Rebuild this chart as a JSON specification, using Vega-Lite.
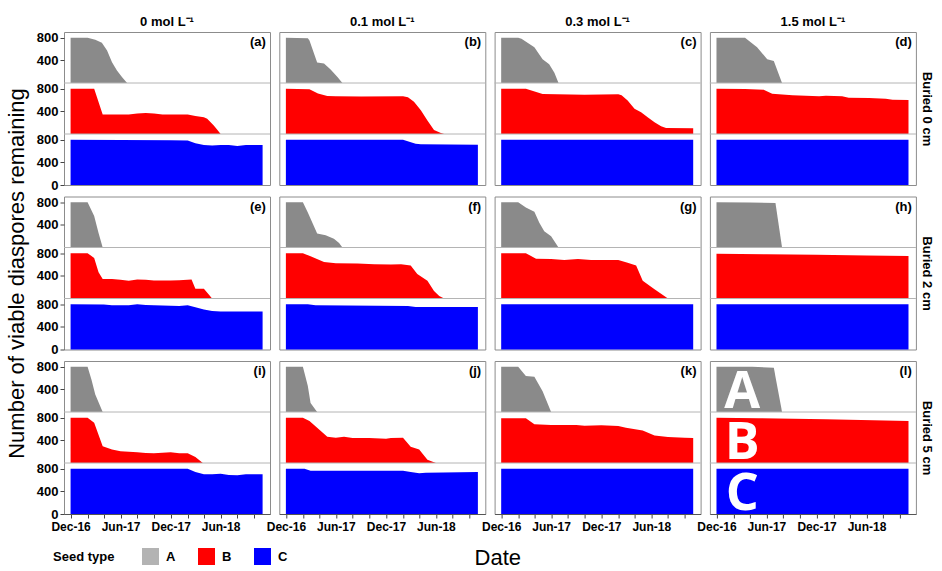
{
  "$schema": "https://vega.github.io/schema/vega-lite/v6.json",
  "background": "white",
  "padding": {"left": 4, "top": 15, "right": 0, "bottom": 0},
  "config": {
    "font": "Liberation Sans",
    "view": {"stroke": "#8c8c8c", "strokeWidth": 1, "continuousWidth": 206, "continuousHeight": 153},
    "range": {"category": ["#8a8a8a", "#ff0000", "#0000ff"]},
    "axis": {"labelFont": "Liberation Sans", "labelColor": "black", "labelFontWeight": "bold", "tickColor": "#444444", "grid": false, "titleFont": "Liberation Sans", "titleFontWeight": "normal", "titleColor": "black", "titleFontSize": 22},
    "axisY": {"labelFontSize": 13, "tickSize": 4, "labelPadding": 2, "domain": false, "titlePadding": 8},
    "axisX": {"labelFontSize": 12, "tickSize": 4, "labelPadding": 3, "domainColor": "#555555", "labelOverlap": false, "titlePadding": 15},
    "title": {"font": "Liberation Sans", "color": "black"},
    "area": {"interpolate": "linear"},
    "text": {"font": "Liberation Sans"}
  },
  "datasets": {"all": [
    {"s":"0","b":"0","t":"A","d":"2016-12-01","v":800},{"s":"0","b":"0","t":"A","d":"2017-02-01","v":800},{"s":"0","b":"0","t":"A","d":"2017-03-01","v":765},{"s":"0","b":"0","t":"A","d":"2017-03-25","v":710},{"s":"0","b":"0","t":"A","d":"2017-04-13","v":575},{"s":"0","b":"0","t":"A","d":"2017-05-01","v":368},{"s":"0","b":"0","t":"A","d":"2017-05-19","v":220},{"s":"0","b":"0","t":"A","d":"2017-06-07","v":100},{"s":"0","b":"0","t":"A","d":"2017-06-25","v":0},
    {"s":"0","b":"0","t":"B","d":"2016-12-01","v":800},{"s":"0","b":"0","t":"B","d":"2017-02-25","v":800},{"s":"0","b":"0","t":"B","d":"2017-03-28","v":345},{"s":"0","b":"0","t":"B","d":"2017-05-01","v":342},{"s":"0","b":"0","t":"B","d":"2017-07-01","v":342},{"s":"0","b":"0","t":"B","d":"2017-08-01","v":360},{"s":"0","b":"0","t":"B","d":"2017-09-01","v":372},{"s":"0","b":"0","t":"B","d":"2017-10-01","v":360},{"s":"0","b":"0","t":"B","d":"2017-11-01","v":345},{"s":"0","b":"0","t":"B","d":"2018-02-01","v":342},{"s":"0","b":"0","t":"B","d":"2018-03-01","v":318},{"s":"0","b":"0","t":"B","d":"2018-04-01","v":294},{"s":"0","b":"0","t":"B","d":"2018-04-13","v":270},{"s":"0","b":"0","t":"B","d":"2018-05-07","v":150},{"s":"0","b":"0","t":"B","d":"2018-05-19","v":78},{"s":"0","b":"0","t":"B","d":"2018-06-01","v":0},
    {"s":"0","b":"0","t":"C","d":"2016-12-01","v":800},{"s":"0","b":"0","t":"C","d":"2017-06-01","v":795},{"s":"0","b":"0","t":"C","d":"2017-12-01","v":790},{"s":"0","b":"0","t":"C","d":"2018-02-01","v":786},{"s":"0","b":"0","t":"C","d":"2018-03-01","v":738},{"s":"0","b":"0","t":"C","d":"2018-04-01","v":708},{"s":"0","b":"0","t":"C","d":"2018-05-01","v":696},{"s":"0","b":"0","t":"C","d":"2018-06-01","v":708},{"s":"0","b":"0","t":"C","d":"2018-07-01","v":705},{"s":"0","b":"0","t":"C","d":"2018-08-01","v":690},{"s":"0","b":"0","t":"C","d":"2018-09-01","v":708},{"s":"0","b":"0","t":"C","d":"2018-10-01","v":705},{"s":"0","b":"0","t":"C","d":"2018-11-01","v":708},
    {"s":"0.1","b":"0","t":"A","d":"2016-12-01","v":800},{"s":"0.1","b":"0","t":"A","d":"2017-02-19","v":790},{"s":"0.1","b":"0","t":"A","d":"2017-02-25","v":750},{"s":"0.1","b":"0","t":"A","d":"2017-03-25","v":360},{"s":"0.1","b":"0","t":"A","d":"2017-04-19","v":345},{"s":"0.1","b":"0","t":"A","d":"2017-05-13","v":240},{"s":"0.1","b":"0","t":"A","d":"2017-06-07","v":108},{"s":"0.1","b":"0","t":"A","d":"2017-06-25","v":0},
    {"s":"0.1","b":"0","t":"B","d":"2016-12-01","v":800},{"s":"0.1","b":"0","t":"B","d":"2017-02-25","v":790},{"s":"0.1","b":"0","t":"B","d":"2017-03-28","v":714},{"s":"0.1","b":"0","t":"B","d":"2017-05-01","v":672},{"s":"0.1","b":"0","t":"B","d":"2017-06-01","v":666},{"s":"0.1","b":"0","t":"B","d":"2017-09-01","v":662},{"s":"0.1","b":"0","t":"B","d":"2018-02-01","v":666},{"s":"0.1","b":"0","t":"B","d":"2018-02-19","v":648},{"s":"0.1","b":"0","t":"B","d":"2018-03-13","v":570},{"s":"0.1","b":"0","t":"B","d":"2018-04-07","v":420},{"s":"0.1","b":"0","t":"B","d":"2018-05-01","v":240},{"s":"0.1","b":"0","t":"B","d":"2018-05-25","v":72},{"s":"0.1","b":"0","t":"B","d":"2018-06-19","v":18},{"s":"0.1","b":"0","t":"B","d":"2018-07-01","v":0},
    {"s":"0.1","b":"0","t":"C","d":"2016-12-01","v":800},{"s":"0.1","b":"0","t":"C","d":"2018-02-01","v":800},{"s":"0.1","b":"0","t":"C","d":"2018-03-19","v":730},{"s":"0.1","b":"0","t":"C","d":"2018-04-07","v":718},{"s":"0.1","b":"0","t":"C","d":"2018-11-01","v":712},
    {"s":"0.3","b":"0","t":"A","d":"2016-12-01","v":800},{"s":"0.3","b":"0","t":"A","d":"2017-02-01","v":800},{"s":"0.3","b":"0","t":"A","d":"2017-02-13","v":780},{"s":"0.3","b":"0","t":"A","d":"2017-04-01","v":630},{"s":"0.3","b":"0","t":"A","d":"2017-05-01","v":420},{"s":"0.3","b":"0","t":"A","d":"2017-05-25","v":330},{"s":"0.3","b":"0","t":"A","d":"2017-06-13","v":180},{"s":"0.3","b":"0","t":"A","d":"2017-06-28","v":0},
    {"s":"0.3","b":"0","t":"B","d":"2016-12-01","v":800},{"s":"0.3","b":"0","t":"B","d":"2017-03-01","v":800},{"s":"0.3","b":"0","t":"B","d":"2017-05-01","v":706},{"s":"0.3","b":"0","t":"B","d":"2017-10-01","v":694},{"s":"0.3","b":"0","t":"B","d":"2018-02-01","v":700},{"s":"0.3","b":"0","t":"B","d":"2018-02-13","v":682},{"s":"0.3","b":"0","t":"B","d":"2018-03-07","v":593},{"s":"0.3","b":"0","t":"B","d":"2018-04-01","v":445},{"s":"0.3","b":"0","t":"B","d":"2018-04-25","v":385},{"s":"0.3","b":"0","t":"B","d":"2018-05-19","v":297},{"s":"0.3","b":"0","t":"B","d":"2018-06-13","v":208},{"s":"0.3","b":"0","t":"B","d":"2018-07-07","v":136},{"s":"0.3","b":"0","t":"B","d":"2018-07-25","v":107},{"s":"0.3","b":"0","t":"B","d":"2018-11-01","v":101},
    {"s":"0.3","b":"0","t":"C","d":"2016-12-01","v":800},{"s":"0.3","b":"0","t":"C","d":"2018-11-01","v":800},
    {"s":"1.5","b":"0","t":"A","d":"2016-12-01","v":800},{"s":"1.5","b":"0","t":"A","d":"2017-03-15","v":800},{"s":"1.5","b":"0","t":"A","d":"2017-04-28","v":630},{"s":"1.5","b":"0","t":"A","d":"2017-06-04","v":420},{"s":"1.5","b":"0","t":"A","d":"2017-06-28","v":390},{"s":"1.5","b":"0","t":"A","d":"2017-07-28","v":0},
    {"s":"1.5","b":"0","t":"B","d":"2016-12-01","v":800},{"s":"1.5","b":"0","t":"B","d":"2017-03-15","v":794},{"s":"1.5","b":"0","t":"B","d":"2017-05-22","v":783},{"s":"1.5","b":"0","t":"B","d":"2017-06-22","v":712},{"s":"1.5","b":"0","t":"B","d":"2017-09-04","v":682},{"s":"1.5","b":"0","t":"B","d":"2017-12-10","v":664},{"s":"1.5","b":"0","t":"B","d":"2018-01-04","v":676},{"s":"1.5","b":"0","t":"B","d":"2018-03-04","v":664},{"s":"1.5","b":"0","t":"B","d":"2018-03-28","v":640},{"s":"1.5","b":"0","t":"B","d":"2018-06-10","v":634},{"s":"1.5","b":"0","t":"B","d":"2018-08-10","v":623},{"s":"1.5","b":"0","t":"B","d":"2018-09-04","v":605},{"s":"1.5","b":"0","t":"B","d":"2018-11-01","v":599},
    {"s":"1.5","b":"0","t":"C","d":"2016-12-01","v":800},{"s":"1.5","b":"0","t":"C","d":"2018-11-01","v":800},
    {"s":"0","b":"2","t":"A","d":"2016-12-01","v":800},{"s":"0","b":"2","t":"A","d":"2017-02-01","v":800},{"s":"0","b":"2","t":"A","d":"2017-02-25","v":558},{"s":"0","b":"2","t":"A","d":"2017-03-13","v":258},{"s":"0","b":"2","t":"A","d":"2017-03-28","v":0},
    {"s":"0","b":"2","t":"B","d":"2016-12-01","v":800},{"s":"0","b":"2","t":"B","d":"2017-02-01","v":800},{"s":"0","b":"2","t":"B","d":"2017-02-25","v":714},{"s":"0","b":"2","t":"B","d":"2017-03-13","v":462},{"s":"0","b":"2","t":"B","d":"2017-03-28","v":342},{"s":"0","b":"2","t":"B","d":"2017-05-01","v":342},{"s":"0","b":"2","t":"B","d":"2017-06-01","v":330},{"s":"0","b":"2","t":"B","d":"2017-07-01","v":312},{"s":"0","b":"2","t":"B","d":"2017-08-01","v":336},{"s":"0","b":"2","t":"B","d":"2017-09-01","v":330},{"s":"0","b":"2","t":"B","d":"2017-10-01","v":318},{"s":"0","b":"2","t":"B","d":"2017-12-01","v":318},{"s":"0","b":"2","t":"B","d":"2018-01-01","v":324},{"s":"0","b":"2","t":"B","d":"2018-02-15","v":336},{"s":"0","b":"2","t":"B","d":"2018-03-01","v":174},{"s":"0","b":"2","t":"B","d":"2018-04-01","v":174},{"s":"0","b":"2","t":"B","d":"2018-05-01","v":0},
    {"s":"0","b":"2","t":"C","d":"2016-12-01","v":800},{"s":"0","b":"2","t":"C","d":"2017-04-01","v":792},{"s":"0","b":"2","t":"C","d":"2017-05-01","v":780},{"s":"0","b":"2","t":"C","d":"2017-07-01","v":780},{"s":"0","b":"2","t":"C","d":"2017-08-01","v":800},{"s":"0","b":"2","t":"C","d":"2017-09-01","v":786},{"s":"0","b":"2","t":"C","d":"2017-10-01","v":780},{"s":"0","b":"2","t":"C","d":"2017-12-01","v":774},{"s":"0","b":"2","t":"C","d":"2018-01-01","v":768},{"s":"0","b":"2","t":"C","d":"2018-02-01","v":780},{"s":"0","b":"2","t":"C","d":"2018-03-01","v":744},{"s":"0","b":"2","t":"C","d":"2018-04-01","v":708},{"s":"0","b":"2","t":"C","d":"2018-05-01","v":678},{"s":"0","b":"2","t":"C","d":"2018-06-01","v":672},{"s":"0","b":"2","t":"C","d":"2018-11-01","v":672},
    {"s":"0.1","b":"2","t":"A","d":"2016-12-01","v":800},{"s":"0.1","b":"2","t":"A","d":"2017-02-01","v":800},{"s":"0.1","b":"2","t":"A","d":"2017-02-19","v":618},{"s":"0.1","b":"2","t":"A","d":"2017-03-25","v":246},{"s":"0.1","b":"2","t":"A","d":"2017-04-25","v":216},{"s":"0.1","b":"2","t":"A","d":"2017-05-25","v":156},{"s":"0.1","b":"2","t":"A","d":"2017-06-13","v":78},{"s":"0.1","b":"2","t":"A","d":"2017-06-25","v":0},
    {"s":"0.1","b":"2","t":"B","d":"2016-12-01","v":800},{"s":"0.1","b":"2","t":"B","d":"2017-02-01","v":800},{"s":"0.1","b":"2","t":"B","d":"2017-03-01","v":744},{"s":"0.1","b":"2","t":"B","d":"2017-04-19","v":642},{"s":"0.1","b":"2","t":"B","d":"2017-06-01","v":624},{"s":"0.1","b":"2","t":"B","d":"2017-08-19","v":618},{"s":"0.1","b":"2","t":"B","d":"2017-10-19","v":606},{"s":"0.1","b":"2","t":"B","d":"2017-12-19","v":600},{"s":"0.1","b":"2","t":"B","d":"2018-01-25","v":606},{"s":"0.1","b":"2","t":"B","d":"2018-03-01","v":582},{"s":"0.1","b":"2","t":"B","d":"2018-03-25","v":432},{"s":"0.1","b":"2","t":"B","d":"2018-05-01","v":312},{"s":"0.1","b":"2","t":"B","d":"2018-05-25","v":132},{"s":"0.1","b":"2","t":"B","d":"2018-06-13","v":42},{"s":"0.1","b":"2","t":"B","d":"2018-07-01","v":0},
    {"s":"0.1","b":"2","t":"C","d":"2016-12-01","v":800},{"s":"0.1","b":"2","t":"C","d":"2017-02-19","v":798},{"s":"0.1","b":"2","t":"C","d":"2017-03-19","v":780},{"s":"0.1","b":"2","t":"C","d":"2018-02-19","v":768},{"s":"0.1","b":"2","t":"C","d":"2018-03-19","v":750},{"s":"0.1","b":"2","t":"C","d":"2018-11-01","v":750},
    {"s":"0.3","b":"2","t":"A","d":"2016-12-01","v":800},{"s":"0.3","b":"2","t":"A","d":"2017-02-01","v":800},{"s":"0.3","b":"2","t":"A","d":"2017-03-01","v":708},{"s":"0.3","b":"2","t":"A","d":"2017-04-01","v":630},{"s":"0.3","b":"2","t":"A","d":"2017-04-19","v":438},{"s":"0.3","b":"2","t":"A","d":"2017-05-07","v":288},{"s":"0.3","b":"2","t":"A","d":"2017-06-01","v":198},{"s":"0.3","b":"2","t":"A","d":"2017-06-28","v":0},
    {"s":"0.3","b":"2","t":"B","d":"2016-12-01","v":800},{"s":"0.3","b":"2","t":"B","d":"2017-03-01","v":800},{"s":"0.3","b":"2","t":"B","d":"2017-04-07","v":702},{"s":"0.3","b":"2","t":"B","d":"2017-06-01","v":696},{"s":"0.3","b":"2","t":"B","d":"2017-07-19","v":678},{"s":"0.3","b":"2","t":"B","d":"2017-09-07","v":696},{"s":"0.3","b":"2","t":"B","d":"2017-10-25","v":678},{"s":"0.3","b":"2","t":"B","d":"2018-02-01","v":678},{"s":"0.3","b":"2","t":"B","d":"2018-03-07","v":630},{"s":"0.3","b":"2","t":"B","d":"2018-04-07","v":582},{"s":"0.3","b":"2","t":"B","d":"2018-05-01","v":312},{"s":"0.3","b":"2","t":"B","d":"2018-06-13","v":162},{"s":"0.3","b":"2","t":"B","d":"2018-08-01","v":0},
    {"s":"0.3","b":"2","t":"C","d":"2016-12-01","v":800},{"s":"0.3","b":"2","t":"C","d":"2018-11-01","v":800},
    {"s":"1.5","b":"2","t":"A","d":"2016-12-01","v":800},{"s":"1.5","b":"2","t":"A","d":"2017-04-01","v":795},{"s":"1.5","b":"2","t":"A","d":"2017-07-04","v":785},{"s":"1.5","b":"2","t":"A","d":"2017-07-28","v":0},
    {"s":"1.5","b":"2","t":"B","d":"2016-12-01","v":790},{"s":"1.5","b":"2","t":"B","d":"2017-06-01","v":780},{"s":"1.5","b":"2","t":"B","d":"2017-12-01","v":770},{"s":"1.5","b":"2","t":"B","d":"2018-06-01","v":760},{"s":"1.5","b":"2","t":"B","d":"2018-11-01","v":750},
    {"s":"1.5","b":"2","t":"C","d":"2016-12-01","v":800},{"s":"1.5","b":"2","t":"C","d":"2018-11-01","v":800},
    {"s":"0","b":"5","t":"A","d":"2016-12-01","v":800},{"s":"0","b":"5","t":"A","d":"2017-02-01","v":800},{"s":"0","b":"5","t":"A","d":"2017-02-15","v":575},{"s":"0","b":"5","t":"A","d":"2017-03-01","v":308},{"s":"0","b":"5","t":"A","d":"2017-03-28","v":0},
    {"s":"0","b":"5","t":"B","d":"2016-12-01","v":800},{"s":"0","b":"5","t":"B","d":"2017-02-01","v":800},{"s":"0","b":"5","t":"B","d":"2017-02-25","v":712},{"s":"0","b":"5","t":"B","d":"2017-03-28","v":297},{"s":"0","b":"5","t":"B","d":"2017-05-01","v":237},{"s":"0","b":"5","t":"B","d":"2017-06-01","v":208},{"s":"0","b":"5","t":"B","d":"2017-08-01","v":190},{"s":"0","b":"5","t":"B","d":"2017-09-01","v":178},{"s":"0","b":"5","t":"B","d":"2017-10-01","v":172},{"s":"0","b":"5","t":"B","d":"2017-12-01","v":190},{"s":"0","b":"5","t":"B","d":"2018-01-01","v":172},{"s":"0","b":"5","t":"B","d":"2018-02-01","v":172},{"s":"0","b":"5","t":"B","d":"2018-03-01","v":107},{"s":"0","b":"5","t":"B","d":"2018-03-28","v":0},
    {"s":"0","b":"5","t":"C","d":"2016-12-01","v":800},{"s":"0","b":"5","t":"C","d":"2018-02-01","v":800},{"s":"0","b":"5","t":"C","d":"2018-03-01","v":741},{"s":"0","b":"5","t":"C","d":"2018-04-01","v":700},{"s":"0","b":"5","t":"C","d":"2018-05-01","v":700},{"s":"0","b":"5","t":"C","d":"2018-06-01","v":711},{"s":"0","b":"5","t":"C","d":"2018-07-01","v":688},{"s":"0","b":"5","t":"C","d":"2018-08-01","v":682},{"s":"0","b":"5","t":"C","d":"2018-09-01","v":700},{"s":"0","b":"5","t":"C","d":"2018-11-01","v":700},
    {"s":"0.1","b":"5","t":"A","d":"2016-12-01","v":800},{"s":"0.1","b":"5","t":"A","d":"2017-02-01","v":800},{"s":"0.1","b":"5","t":"A","d":"2017-02-19","v":457},{"s":"0.1","b":"5","t":"A","d":"2017-03-01","v":160},{"s":"0.1","b":"5","t":"A","d":"2017-03-25","v":0},
    {"s":"0.1","b":"5","t":"B","d":"2016-12-01","v":800},{"s":"0.1","b":"5","t":"B","d":"2017-02-01","v":800},{"s":"0.1","b":"5","t":"B","d":"2017-02-25","v":741},{"s":"0.1","b":"5","t":"B","d":"2017-03-25","v":622},{"s":"0.1","b":"5","t":"B","d":"2017-05-01","v":463},{"s":"0.1","b":"5","t":"B","d":"2017-06-01","v":445},{"s":"0.1","b":"5","t":"B","d":"2017-07-01","v":463},{"s":"0.1","b":"5","t":"B","d":"2017-08-01","v":439},{"s":"0.1","b":"5","t":"B","d":"2017-10-01","v":439},{"s":"0.1","b":"5","t":"B","d":"2017-12-01","v":427},{"s":"0.1","b":"5","t":"B","d":"2017-12-19","v":439},{"s":"0.1","b":"5","t":"B","d":"2018-02-01","v":445},{"s":"0.1","b":"5","t":"B","d":"2018-03-01","v":285},{"s":"0.1","b":"5","t":"B","d":"2018-04-01","v":237},{"s":"0.1","b":"5","t":"B","d":"2018-05-01","v":59},{"s":"0.1","b":"5","t":"B","d":"2018-06-01","v":0},
    {"s":"0.1","b":"5","t":"C","d":"2016-12-01","v":800},{"s":"0.1","b":"5","t":"C","d":"2017-02-07","v":800},{"s":"0.1","b":"5","t":"C","d":"2017-03-01","v":765},{"s":"0.1","b":"5","t":"C","d":"2018-02-01","v":765},{"s":"0.1","b":"5","t":"C","d":"2018-03-01","v":741},{"s":"0.1","b":"5","t":"C","d":"2018-04-01","v":717},{"s":"0.1","b":"5","t":"C","d":"2018-04-25","v":729},{"s":"0.1","b":"5","t":"C","d":"2018-11-01","v":741},
    {"s":"0.3","b":"5","t":"A","d":"2016-12-01","v":800},{"s":"0.3","b":"5","t":"A","d":"2017-02-01","v":800},{"s":"0.3","b":"5","t":"A","d":"2017-03-01","v":634},{"s":"0.3","b":"5","t":"A","d":"2017-04-01","v":622},{"s":"0.3","b":"5","t":"A","d":"2017-05-01","v":368},{"s":"0.3","b":"5","t":"A","d":"2017-06-01","v":0},
    {"s":"0.3","b":"5","t":"B","d":"2016-12-01","v":790},{"s":"0.3","b":"5","t":"B","d":"2017-03-01","v":790},{"s":"0.3","b":"5","t":"B","d":"2017-04-01","v":682},{"s":"0.3","b":"5","t":"B","d":"2017-06-01","v":670},{"s":"0.3","b":"5","t":"B","d":"2017-09-01","v":670},{"s":"0.3","b":"5","t":"B","d":"2017-10-01","v":658},{"s":"0.3","b":"5","t":"B","d":"2017-12-01","v":664},{"s":"0.3","b":"5","t":"B","d":"2018-02-01","v":652},{"s":"0.3","b":"5","t":"B","d":"2018-03-01","v":622},{"s":"0.3","b":"5","t":"B","d":"2018-05-01","v":575},{"s":"0.3","b":"5","t":"B","d":"2018-06-13","v":486},{"s":"0.3","b":"5","t":"B","d":"2018-08-01","v":457},{"s":"0.3","b":"5","t":"B","d":"2018-10-01","v":445},{"s":"0.3","b":"5","t":"B","d":"2018-11-01","v":439},
    {"s":"0.3","b":"5","t":"C","d":"2016-12-01","v":800},{"s":"0.3","b":"5","t":"C","d":"2018-11-01","v":800},
    {"s":"1.5","b":"5","t":"A","d":"2016-12-01","v":800},{"s":"1.5","b":"5","t":"A","d":"2017-04-10","v":800},{"s":"1.5","b":"5","t":"A","d":"2017-06-28","v":782},{"s":"1.5","b":"5","t":"A","d":"2017-07-28","v":0},
    {"s":"1.5","b":"5","t":"B","d":"2016-12-01","v":800},{"s":"1.5","b":"5","t":"B","d":"2017-05-04","v":790},{"s":"1.5","b":"5","t":"B","d":"2018-01-04","v":770},{"s":"1.5","b":"5","t":"B","d":"2018-11-01","v":741},
    {"s":"1.5","b":"5","t":"C","d":"2016-12-01","v":800},{"s":"1.5","b":"5","t":"C","d":"2018-11-01","v":800},
    {"s":"0","b":"0","t":"L","p":"(a)"},{"s":"0.1","b":"0","t":"L","p":"(b)"},{"s":"0.3","b":"0","t":"L","p":"(c)"},{"s":"1.5","b":"0","t":"L","p":"(d)"},
    {"s":"0","b":"2","t":"L","p":"(e)"},{"s":"0.1","b":"2","t":"L","p":"(f)"},{"s":"0.3","b":"2","t":"L","p":"(g)"},{"s":"1.5","b":"2","t":"L","p":"(h)"},
    {"s":"0","b":"5","t":"L","p":"(i)"},{"s":"0.1","b":"5","t":"L","p":"(j)"},{"s":"0.3","b":"5","t":"L","p":"(k)"},{"s":"1.5","b":"5","t":"L","p":"(l)"},
    {"s":"1.5","b":"5","t":"T","g":"A"},{"s":"1.5","b":"5","t":"T","g":"B"},{"s":"1.5","b":"5","t":"T","g":"C"}
  ]},
  "columns": 4,
  "spacing": {"row": 11.5, "column": 9.3},
  "bounds": "flush",
  "concat": [
    {"title": {"text": "0 mol L⁻¹", "anchor": "middle", "fontSize": 13, "fontWeight": "bold", "offset": 3},
     "data": {"name": "all"}, "transform": [{"filter": "datum.s==='0'&&datum.b==='0'"}], "resolve": {"scale": {"y": "independent"}},
     "layer": [
      {"transform": [{"filter": "datum.t==='A'"}], "mark": "area", "encoding": {"x": {"field": "d", "type": "temporal", "scale": {"type": "utc", "domain": [{"year": 2016, "month": 11, "date": 7, "utc": true}, {"year": 2018, "month": 11, "date": 28, "utc": true}]}, "axis": null}, "y": {"field": "v", "type": "quantitative", "stack": null, "scale": {"domain": [-1800, 900]}, "axis": null}, "color": {"field": "t", "type": "nominal", "title": "Seed type", "legend": {"orient": "none", "legendX": -11, "legendY": 516, "direction": "horizontal", "titleOrient": "left", "titleFontWeight": "bold", "titleFontSize": 13, "titleColor": "black", "titlePadding": 27, "labelFontWeight": "bold", "labelFontSize": 13, "labelColor": "black", "symbolType": "square", "symbolSize": 289, "symbolStrokeWidth": 0, "labelOffset": 7, "columnPadding": 22, "encode": {"symbols": {"update": {"opacity": {"signal": "datum.value === 'A' ? 0.65 : 1"}}}}}}}},
      {"transform": [{"filter": "datum.t==='B'"}], "mark": "area", "encoding": {"x": {"field": "d", "type": "temporal", "axis": null}, "y": {"field": "v", "type": "quantitative", "stack": null, "scale": {"domain": [-900, 1800]}, "axis": null}, "color": {"field": "t", "type": "nominal", "title": "Seed type"}}},
      {"transform": [{"filter": "datum.t==='C'"}], "mark": "area", "encoding": {"x": {"field": "d", "type": "temporal", "axis": null}, "y": {"field": "v", "type": "quantitative", "stack": null, "scale": {"domain": [0, 2700]}, "axis": {"values": [0, 400, 800, 1300, 1700, 2200, 2600], "labelExpr": "'' + (datum.value % 900)", "title": null}}, "color": {"field": "t", "type": "nominal", "title": "Seed type"}}},
      {"transform": [{"filter": "datum.t==='L'"}], "mark": {"type": "rule", "color": "#b4b4b4"}, "encoding": {"y": {"datum": 900, "type": "quantitative", "scale": {"domain": [0, 2700]}, "axis": null}}},
      {"transform": [{"filter": "datum.t==='L'"}], "mark": {"type": "rule", "color": "#b4b4b4"}, "encoding": {"y": {"datum": 1800, "type": "quantitative", "scale": {"domain": [0, 2700]}, "axis": null}}},
      {"transform": [{"filter": "datum.t==='L'"}], "mark": {"type": "text", "align": "right", "baseline": "top", "fontSize": 13, "fontWeight": "bold"}, "encoding": {"x": {"datum": {"year": 2018, "month": 11, "date": 13, "utc": true}, "type": "temporal", "axis": null}, "y": {"datum": 2625, "type": "quantitative", "scale": {"domain": [0, 2700]}, "axis": null}, "text": {"field": "p"}}}
     ]},
    {"title": {"text": "0.1 mol L⁻¹", "anchor": "middle", "fontSize": 13, "fontWeight": "bold", "offset": 3},
     "data": {"name": "all"}, "transform": [{"filter": "datum.s==='0.1'&&datum.b==='0'"}], "resolve": {"scale": {"y": "independent"}},
     "layer": [
      {"transform": [{"filter": "datum.t==='A'"}], "mark": "area", "encoding": {"x": {"field": "d", "type": "temporal", "scale": {"type": "utc", "domain": [{"year": 2016, "month": 11, "date": 7, "utc": true}, {"year": 2018, "month": 11, "date": 28, "utc": true}]}, "axis": null}, "y": {"field": "v", "type": "quantitative", "stack": null, "scale": {"domain": [-1800, 900]}, "axis": null}, "color": {"field": "t", "type": "nominal", "title": "Seed type"}}},
      {"transform": [{"filter": "datum.t==='B'"}], "mark": "area", "encoding": {"x": {"field": "d", "type": "temporal", "axis": null}, "y": {"field": "v", "type": "quantitative", "stack": null, "scale": {"domain": [-900, 1800]}, "axis": null}, "color": {"field": "t", "type": "nominal", "title": "Seed type"}}},
      {"transform": [{"filter": "datum.t==='C'"}], "mark": "area", "encoding": {"x": {"field": "d", "type": "temporal", "axis": null}, "y": {"field": "v", "type": "quantitative", "stack": null, "scale": {"domain": [0, 2700]}, "axis": null}, "color": {"field": "t", "type": "nominal", "title": "Seed type"}}},
      {"transform": [{"filter": "datum.t==='L'"}], "mark": {"type": "rule", "color": "#b4b4b4"}, "encoding": {"y": {"datum": 900, "type": "quantitative", "scale": {"domain": [0, 2700]}, "axis": null}}},
      {"transform": [{"filter": "datum.t==='L'"}], "mark": {"type": "rule", "color": "#b4b4b4"}, "encoding": {"y": {"datum": 1800, "type": "quantitative", "scale": {"domain": [0, 2700]}, "axis": null}}},
      {"transform": [{"filter": "datum.t==='L'"}], "mark": {"type": "text", "align": "right", "baseline": "top", "fontSize": 13, "fontWeight": "bold"}, "encoding": {"x": {"datum": {"year": 2018, "month": 11, "date": 13, "utc": true}, "type": "temporal", "axis": null}, "y": {"datum": 2625, "type": "quantitative", "scale": {"domain": [0, 2700]}, "axis": null}, "text": {"field": "p"}}}
     ]},
    {"title": {"text": "0.3 mol L⁻¹", "anchor": "middle", "fontSize": 13, "fontWeight": "bold", "offset": 3},
     "data": {"name": "all"}, "transform": [{"filter": "datum.s==='0.3'&&datum.b==='0'"}], "resolve": {"scale": {"y": "independent"}},
     "layer": [
      {"transform": [{"filter": "datum.t==='A'"}], "mark": "area", "encoding": {"x": {"field": "d", "type": "temporal", "scale": {"type": "utc", "domain": [{"year": 2016, "month": 11, "date": 7, "utc": true}, {"year": 2018, "month": 11, "date": 28, "utc": true}]}, "axis": null}, "y": {"field": "v", "type": "quantitative", "stack": null, "scale": {"domain": [-1800, 900]}, "axis": null}, "color": {"field": "t", "type": "nominal", "title": "Seed type"}}},
      {"transform": [{"filter": "datum.t==='B'"}], "mark": "area", "encoding": {"x": {"field": "d", "type": "temporal", "axis": null}, "y": {"field": "v", "type": "quantitative", "stack": null, "scale": {"domain": [-900, 1800]}, "axis": null}, "color": {"field": "t", "type": "nominal", "title": "Seed type"}}},
      {"transform": [{"filter": "datum.t==='C'"}], "mark": "area", "encoding": {"x": {"field": "d", "type": "temporal", "axis": null}, "y": {"field": "v", "type": "quantitative", "stack": null, "scale": {"domain": [0, 2700]}, "axis": null}, "color": {"field": "t", "type": "nominal", "title": "Seed type"}}},
      {"transform": [{"filter": "datum.t==='L'"}], "mark": {"type": "rule", "color": "#b4b4b4"}, "encoding": {"y": {"datum": 900, "type": "quantitative", "scale": {"domain": [0, 2700]}, "axis": null}}},
      {"transform": [{"filter": "datum.t==='L'"}], "mark": {"type": "rule", "color": "#b4b4b4"}, "encoding": {"y": {"datum": 1800, "type": "quantitative", "scale": {"domain": [0, 2700]}, "axis": null}}},
      {"transform": [{"filter": "datum.t==='L'"}], "mark": {"type": "text", "align": "right", "baseline": "top", "fontSize": 13, "fontWeight": "bold"}, "encoding": {"x": {"datum": {"year": 2018, "month": 11, "date": 13, "utc": true}, "type": "temporal", "axis": null}, "y": {"datum": 2625, "type": "quantitative", "scale": {"domain": [0, 2700]}, "axis": null}, "text": {"field": "p"}}}
     ]},
    {"title": {"text": "1.5 mol L⁻¹", "anchor": "middle", "fontSize": 13, "fontWeight": "bold", "offset": 3},
     "data": {"name": "all"}, "transform": [{"filter": "datum.s==='1.5'&&datum.b==='0'"}], "resolve": {"scale": {"y": "independent"}},
     "layer": [
      {"transform": [{"filter": "datum.t==='A'"}], "mark": "area", "encoding": {"x": {"field": "d", "type": "temporal", "scale": {"type": "utc", "domain": [{"year": 2016, "month": 11, "date": 7, "utc": true}, {"year": 2018, "month": 11, "date": 28, "utc": true}]}, "axis": null}, "y": {"field": "v", "type": "quantitative", "stack": null, "scale": {"domain": [-1800, 900]}, "axis": null}, "color": {"field": "t", "type": "nominal", "title": "Seed type"}}},
      {"transform": [{"filter": "datum.t==='B'"}], "mark": "area", "encoding": {"x": {"field": "d", "type": "temporal", "axis": null}, "y": {"field": "v", "type": "quantitative", "stack": null, "scale": {"domain": [-900, 1800]}, "axis": null}, "color": {"field": "t", "type": "nominal", "title": "Seed type"}}},
      {"transform": [{"filter": "datum.t==='C'"}], "mark": "area", "encoding": {"x": {"field": "d", "type": "temporal", "axis": null}, "y": {"field": "v", "type": "quantitative", "stack": null, "scale": {"domain": [0, 2700]}, "axis": null}, "color": {"field": "t", "type": "nominal", "title": "Seed type"}}},
      {"transform": [{"filter": "datum.t==='L'"}], "mark": {"type": "rule", "color": "#b4b4b4"}, "encoding": {"y": {"datum": 900, "type": "quantitative", "scale": {"domain": [0, 2700]}, "axis": {"orient": "right", "title": "Buried 0 cm", "labels": false, "ticks": false, "domain": false, "titleAngle": 90, "titleFontSize": 13, "titleFontWeight": "bold", "titlePadding": 4}}}},
      {"transform": [{"filter": "datum.t==='L'"}], "mark": {"type": "rule", "color": "#b4b4b4"}, "encoding": {"y": {"datum": 1800, "type": "quantitative", "scale": {"domain": [0, 2700]}, "axis": null}}},
      {"transform": [{"filter": "datum.t==='L'"}], "mark": {"type": "text", "align": "right", "baseline": "top", "fontSize": 13, "fontWeight": "bold"}, "encoding": {"x": {"datum": {"year": 2018, "month": 11, "date": 13, "utc": true}, "type": "temporal", "axis": null}, "y": {"datum": 2625, "type": "quantitative", "scale": {"domain": [0, 2700]}, "axis": null}, "text": {"field": "p"}}}
     ]},

    {"data": {"name": "all"}, "transform": [{"filter": "datum.s==='0'&&datum.b==='2'"}], "resolve": {"scale": {"y": "independent"}},
     "layer": [
      {"transform": [{"filter": "datum.t==='A'"}], "mark": "area", "encoding": {"x": {"field": "d", "type": "temporal", "scale": {"type": "utc", "domain": [{"year": 2016, "month": 11, "date": 7, "utc": true}, {"year": 2018, "month": 11, "date": 28, "utc": true}]}, "axis": null}, "y": {"field": "v", "type": "quantitative", "stack": null, "scale": {"domain": [-1800, 900]}, "axis": null}, "color": {"field": "t", "type": "nominal", "title": "Seed type"}}},
      {"transform": [{"filter": "datum.t==='B'"}], "mark": "area", "encoding": {"x": {"field": "d", "type": "temporal", "axis": null}, "y": {"field": "v", "type": "quantitative", "stack": null, "scale": {"domain": [-900, 1800]}, "axis": null}, "color": {"field": "t", "type": "nominal", "title": "Seed type"}}},
      {"transform": [{"filter": "datum.t==='C'"}], "mark": "area", "encoding": {"x": {"field": "d", "type": "temporal", "axis": null}, "y": {"field": "v", "type": "quantitative", "stack": null, "scale": {"domain": [0, 2700]}, "axis": {"values": [0, 400, 800, 1300, 1700, 2200, 2600], "labelExpr": "'' + (datum.value % 900)", "title": "Number of viable diaspores remaining"}}, "color": {"field": "t", "type": "nominal", "title": "Seed type"}}},
      {"transform": [{"filter": "datum.t==='L'"}], "mark": {"type": "rule", "color": "#b4b4b4"}, "encoding": {"y": {"datum": 900, "type": "quantitative", "scale": {"domain": [0, 2700]}, "axis": null}}},
      {"transform": [{"filter": "datum.t==='L'"}], "mark": {"type": "rule", "color": "#b4b4b4"}, "encoding": {"y": {"datum": 1800, "type": "quantitative", "scale": {"domain": [0, 2700]}, "axis": null}}},
      {"transform": [{"filter": "datum.t==='L'"}], "mark": {"type": "text", "align": "right", "baseline": "top", "fontSize": 13, "fontWeight": "bold"}, "encoding": {"x": {"datum": {"year": 2018, "month": 11, "date": 13, "utc": true}, "type": "temporal", "axis": null}, "y": {"datum": 2625, "type": "quantitative", "scale": {"domain": [0, 2700]}, "axis": null}, "text": {"field": "p"}}}
     ]},
    {"data": {"name": "all"}, "transform": [{"filter": "datum.s==='0.1'&&datum.b==='2'"}], "resolve": {"scale": {"y": "independent"}},
     "layer": [
      {"transform": [{"filter": "datum.t==='A'"}], "mark": "area", "encoding": {"x": {"field": "d", "type": "temporal", "scale": {"type": "utc", "domain": [{"year": 2016, "month": 11, "date": 7, "utc": true}, {"year": 2018, "month": 11, "date": 28, "utc": true}]}, "axis": null}, "y": {"field": "v", "type": "quantitative", "stack": null, "scale": {"domain": [-1800, 900]}, "axis": null}, "color": {"field": "t", "type": "nominal", "title": "Seed type"}}},
      {"transform": [{"filter": "datum.t==='B'"}], "mark": "area", "encoding": {"x": {"field": "d", "type": "temporal", "axis": null}, "y": {"field": "v", "type": "quantitative", "stack": null, "scale": {"domain": [-900, 1800]}, "axis": null}, "color": {"field": "t", "type": "nominal", "title": "Seed type"}}},
      {"transform": [{"filter": "datum.t==='C'"}], "mark": "area", "encoding": {"x": {"field": "d", "type": "temporal", "axis": null}, "y": {"field": "v", "type": "quantitative", "stack": null, "scale": {"domain": [0, 2700]}, "axis": null}, "color": {"field": "t", "type": "nominal", "title": "Seed type"}}},
      {"transform": [{"filter": "datum.t==='L'"}], "mark": {"type": "rule", "color": "#b4b4b4"}, "encoding": {"y": {"datum": 900, "type": "quantitative", "scale": {"domain": [0, 2700]}, "axis": null}}},
      {"transform": [{"filter": "datum.t==='L'"}], "mark": {"type": "rule", "color": "#b4b4b4"}, "encoding": {"y": {"datum": 1800, "type": "quantitative", "scale": {"domain": [0, 2700]}, "axis": null}}},
      {"transform": [{"filter": "datum.t==='L'"}], "mark": {"type": "text", "align": "right", "baseline": "top", "fontSize": 13, "fontWeight": "bold"}, "encoding": {"x": {"datum": {"year": 2018, "month": 11, "date": 13, "utc": true}, "type": "temporal", "axis": null}, "y": {"datum": 2625, "type": "quantitative", "scale": {"domain": [0, 2700]}, "axis": null}, "text": {"field": "p"}}}
     ]},
    {"data": {"name": "all"}, "transform": [{"filter": "datum.s==='0.3'&&datum.b==='2'"}], "resolve": {"scale": {"y": "independent"}},
     "layer": [
      {"transform": [{"filter": "datum.t==='A'"}], "mark": "area", "encoding": {"x": {"field": "d", "type": "temporal", "scale": {"type": "utc", "domain": [{"year": 2016, "month": 11, "date": 7, "utc": true}, {"year": 2018, "month": 11, "date": 28, "utc": true}]}, "axis": null}, "y": {"field": "v", "type": "quantitative", "stack": null, "scale": {"domain": [-1800, 900]}, "axis": null}, "color": {"field": "t", "type": "nominal", "title": "Seed type"}}},
      {"transform": [{"filter": "datum.t==='B'"}], "mark": "area", "encoding": {"x": {"field": "d", "type": "temporal", "axis": null}, "y": {"field": "v", "type": "quantitative", "stack": null, "scale": {"domain": [-900, 1800]}, "axis": null}, "color": {"field": "t", "type": "nominal", "title": "Seed type"}}},
      {"transform": [{"filter": "datum.t==='C'"}], "mark": "area", "encoding": {"x": {"field": "d", "type": "temporal", "axis": null}, "y": {"field": "v", "type": "quantitative", "stack": null, "scale": {"domain": [0, 2700]}, "axis": null}, "color": {"field": "t", "type": "nominal", "title": "Seed type"}}},
      {"transform": [{"filter": "datum.t==='L'"}], "mark": {"type": "rule", "color": "#b4b4b4"}, "encoding": {"y": {"datum": 900, "type": "quantitative", "scale": {"domain": [0, 2700]}, "axis": null}}},
      {"transform": [{"filter": "datum.t==='L'"}], "mark": {"type": "rule", "color": "#b4b4b4"}, "encoding": {"y": {"datum": 1800, "type": "quantitative", "scale": {"domain": [0, 2700]}, "axis": null}}},
      {"transform": [{"filter": "datum.t==='L'"}], "mark": {"type": "text", "align": "right", "baseline": "top", "fontSize": 13, "fontWeight": "bold"}, "encoding": {"x": {"datum": {"year": 2018, "month": 11, "date": 13, "utc": true}, "type": "temporal", "axis": null}, "y": {"datum": 2625, "type": "quantitative", "scale": {"domain": [0, 2700]}, "axis": null}, "text": {"field": "p"}}}
     ]},
    {"data": {"name": "all"}, "transform": [{"filter": "datum.s==='1.5'&&datum.b==='2'"}], "resolve": {"scale": {"y": "independent"}},
     "layer": [
      {"transform": [{"filter": "datum.t==='A'"}], "mark": "area", "encoding": {"x": {"field": "d", "type": "temporal", "scale": {"type": "utc", "domain": [{"year": 2016, "month": 11, "date": 7, "utc": true}, {"year": 2018, "month": 11, "date": 28, "utc": true}]}, "axis": null}, "y": {"field": "v", "type": "quantitative", "stack": null, "scale": {"domain": [-1800, 900]}, "axis": null}, "color": {"field": "t", "type": "nominal", "title": "Seed type"}}},
      {"transform": [{"filter": "datum.t==='B'"}], "mark": "area", "encoding": {"x": {"field": "d", "type": "temporal", "axis": null}, "y": {"field": "v", "type": "quantitative", "stack": null, "scale": {"domain": [-900, 1800]}, "axis": null}, "color": {"field": "t", "type": "nominal", "title": "Seed type"}}},
      {"transform": [{"filter": "datum.t==='C'"}], "mark": "area", "encoding": {"x": {"field": "d", "type": "temporal", "axis": null}, "y": {"field": "v", "type": "quantitative", "stack": null, "scale": {"domain": [0, 2700]}, "axis": null}, "color": {"field": "t", "type": "nominal", "title": "Seed type"}}},
      {"transform": [{"filter": "datum.t==='L'"}], "mark": {"type": "rule", "color": "#b4b4b4"}, "encoding": {"y": {"datum": 900, "type": "quantitative", "scale": {"domain": [0, 2700]}, "axis": {"orient": "right", "title": "Buried 2 cm", "labels": false, "ticks": false, "domain": false, "titleAngle": 90, "titleFontSize": 13, "titleFontWeight": "bold", "titlePadding": 4}}}},
      {"transform": [{"filter": "datum.t==='L'"}], "mark": {"type": "rule", "color": "#b4b4b4"}, "encoding": {"y": {"datum": 1800, "type": "quantitative", "scale": {"domain": [0, 2700]}, "axis": null}}},
      {"transform": [{"filter": "datum.t==='L'"}], "mark": {"type": "text", "align": "right", "baseline": "top", "fontSize": 13, "fontWeight": "bold"}, "encoding": {"x": {"datum": {"year": 2018, "month": 11, "date": 13, "utc": true}, "type": "temporal", "axis": null}, "y": {"datum": 2625, "type": "quantitative", "scale": {"domain": [0, 2700]}, "axis": null}, "text": {"field": "p"}}}
     ]},

    {"data": {"name": "all"}, "transform": [{"filter": "datum.s==='0'&&datum.b==='5'"}], "resolve": {"scale": {"y": "independent"}},
     "layer": [
      {"transform": [{"filter": "datum.t==='A'"}], "mark": "area", "encoding": {"x": {"field": "d", "type": "temporal", "scale": {"type": "utc", "domain": [{"year": 2016, "month": 11, "date": 7, "utc": true}, {"year": 2018, "month": 11, "date": 28, "utc": true}]}, "axis": {"title": null, "labelExpr": "utcmonth(datum.value) % 6 == 5 ? utcFormat(datum.value, '%b-%y') : ''", "values": [{"year":2016,"month":12,"date":1,"utc":true},{"year":2017,"month":2,"date":1,"utc":true},{"year":2017,"month":4,"date":1,"utc":true},{"year":2017,"month":6,"date":1,"utc":true},{"year":2017,"month":8,"date":1,"utc":true},{"year":2017,"month":10,"date":1,"utc":true},{"year":2017,"month":12,"date":1,"utc":true},{"year":2018,"month":2,"date":1,"utc":true},{"year":2018,"month":4,"date":1,"utc":true},{"year":2018,"month":6,"date":1,"utc":true},{"year":2018,"month":8,"date":1,"utc":true},{"year":2018,"month":10,"date":1,"utc":true}]}}, "y": {"field": "v", "type": "quantitative", "stack": null, "scale": {"domain": [-1800, 900]}, "axis": null}, "color": {"field": "t", "type": "nominal", "title": "Seed type"}}},
      {"transform": [{"filter": "datum.t==='B'"}], "mark": "area", "encoding": {"x": {"field": "d", "type": "temporal", "axis": {"title": null, "labelExpr": "utcmonth(datum.value) % 6 == 5 ? utcFormat(datum.value, '%b-%y') : ''", "values": [{"year":2016,"month":12,"date":1,"utc":true},{"year":2017,"month":2,"date":1,"utc":true},{"year":2017,"month":4,"date":1,"utc":true},{"year":2017,"month":6,"date":1,"utc":true},{"year":2017,"month":8,"date":1,"utc":true},{"year":2017,"month":10,"date":1,"utc":true},{"year":2017,"month":12,"date":1,"utc":true},{"year":2018,"month":2,"date":1,"utc":true},{"year":2018,"month":4,"date":1,"utc":true},{"year":2018,"month":6,"date":1,"utc":true},{"year":2018,"month":8,"date":1,"utc":true},{"year":2018,"month":10,"date":1,"utc":true}]}}, "y": {"field": "v", "type": "quantitative", "stack": null, "scale": {"domain": [-900, 1800]}, "axis": null}, "color": {"field": "t", "type": "nominal", "title": "Seed type"}}},
      {"transform": [{"filter": "datum.t==='C'"}], "mark": "area", "encoding": {"x": {"field": "d", "type": "temporal", "axis": {"title": null, "labelExpr": "utcmonth(datum.value) % 6 == 5 ? utcFormat(datum.value, '%b-%y') : ''", "values": [{"year":2016,"month":12,"date":1,"utc":true},{"year":2017,"month":2,"date":1,"utc":true},{"year":2017,"month":4,"date":1,"utc":true},{"year":2017,"month":6,"date":1,"utc":true},{"year":2017,"month":8,"date":1,"utc":true},{"year":2017,"month":10,"date":1,"utc":true},{"year":2017,"month":12,"date":1,"utc":true},{"year":2018,"month":2,"date":1,"utc":true},{"year":2018,"month":4,"date":1,"utc":true},{"year":2018,"month":6,"date":1,"utc":true},{"year":2018,"month":8,"date":1,"utc":true},{"year":2018,"month":10,"date":1,"utc":true}]}}, "y": {"field": "v", "type": "quantitative", "stack": null, "scale": {"domain": [0, 2700]}, "axis": {"values": [0, 400, 800, 1300, 1700, 2200, 2600], "labelExpr": "'' + (datum.value % 900)", "title": null}}, "color": {"field": "t", "type": "nominal", "title": "Seed type"}}},
      {"transform": [{"filter": "datum.t==='L'"}], "mark": {"type": "rule", "color": "#b4b4b4"}, "encoding": {"y": {"datum": 900, "type": "quantitative", "scale": {"domain": [0, 2700]}, "axis": null}}},
      {"transform": [{"filter": "datum.t==='L'"}], "mark": {"type": "rule", "color": "#b4b4b4"}, "encoding": {"y": {"datum": 1800, "type": "quantitative", "scale": {"domain": [0, 2700]}, "axis": null}}},
      {"transform": [{"filter": "datum.t==='L'"}], "mark": {"type": "text", "align": "right", "baseline": "top", "fontSize": 13, "fontWeight": "bold"}, "encoding": {"x": {"datum": {"year": 2018, "month": 11, "date": 13, "utc": true}, "type": "temporal", "axis": {"title": null, "labelExpr": "utcmonth(datum.value) % 6 == 5 ? utcFormat(datum.value, '%b-%y') : ''", "values": [{"year":2016,"month":12,"date":1,"utc":true},{"year":2017,"month":2,"date":1,"utc":true},{"year":2017,"month":4,"date":1,"utc":true},{"year":2017,"month":6,"date":1,"utc":true},{"year":2017,"month":8,"date":1,"utc":true},{"year":2017,"month":10,"date":1,"utc":true},{"year":2017,"month":12,"date":1,"utc":true},{"year":2018,"month":2,"date":1,"utc":true},{"year":2018,"month":4,"date":1,"utc":true},{"year":2018,"month":6,"date":1,"utc":true},{"year":2018,"month":8,"date":1,"utc":true},{"year":2018,"month":10,"date":1,"utc":true}]}}, "y": {"datum": 2625, "type": "quantitative", "scale": {"domain": [0, 2700]}, "axis": null}, "text": {"field": "p"}}}
     ]},
    {"data": {"name": "all"}, "transform": [{"filter": "datum.s==='0.1'&&datum.b==='5'"}], "resolve": {"scale": {"y": "independent"}},
     "layer": [
      {"transform": [{"filter": "datum.t==='A'"}], "mark": "area", "encoding": {"x": {"field": "d", "type": "temporal", "scale": {"type": "utc", "domain": [{"year": 2016, "month": 11, "date": 7, "utc": true}, {"year": 2018, "month": 11, "date": 28, "utc": true}]}, "axis": {"title": "Date", "titleX": 218, "labelExpr": "utcmonth(datum.value) % 6 == 5 ? utcFormat(datum.value, '%b-%y') : ''", "values": [{"year":2016,"month":12,"date":1,"utc":true},{"year":2017,"month":2,"date":1,"utc":true},{"year":2017,"month":4,"date":1,"utc":true},{"year":2017,"month":6,"date":1,"utc":true},{"year":2017,"month":8,"date":1,"utc":true},{"year":2017,"month":10,"date":1,"utc":true},{"year":2017,"month":12,"date":1,"utc":true},{"year":2018,"month":2,"date":1,"utc":true},{"year":2018,"month":4,"date":1,"utc":true},{"year":2018,"month":6,"date":1,"utc":true},{"year":2018,"month":8,"date":1,"utc":true},{"year":2018,"month":10,"date":1,"utc":true}]}}, "y": {"field": "v", "type": "quantitative", "stack": null, "scale": {"domain": [-1800, 900]}, "axis": null}, "color": {"field": "t", "type": "nominal", "title": "Seed type"}}},
      {"transform": [{"filter": "datum.t==='B'"}], "mark": "area", "encoding": {"x": {"field": "d", "type": "temporal", "axis": {"title": "Date", "titleX": 218, "labelExpr": "utcmonth(datum.value) % 6 == 5 ? utcFormat(datum.value, '%b-%y') : ''", "values": [{"year":2016,"month":12,"date":1,"utc":true},{"year":2017,"month":2,"date":1,"utc":true},{"year":2017,"month":4,"date":1,"utc":true},{"year":2017,"month":6,"date":1,"utc":true},{"year":2017,"month":8,"date":1,"utc":true},{"year":2017,"month":10,"date":1,"utc":true},{"year":2017,"month":12,"date":1,"utc":true},{"year":2018,"month":2,"date":1,"utc":true},{"year":2018,"month":4,"date":1,"utc":true},{"year":2018,"month":6,"date":1,"utc":true},{"year":2018,"month":8,"date":1,"utc":true},{"year":2018,"month":10,"date":1,"utc":true}]}}, "y": {"field": "v", "type": "quantitative", "stack": null, "scale": {"domain": [-900, 1800]}, "axis": null}, "color": {"field": "t", "type": "nominal", "title": "Seed type"}}},
      {"transform": [{"filter": "datum.t==='C'"}], "mark": "area", "encoding": {"x": {"field": "d", "type": "temporal", "axis": {"title": "Date", "titleX": 218, "labelExpr": "utcmonth(datum.value) % 6 == 5 ? utcFormat(datum.value, '%b-%y') : ''", "values": [{"year":2016,"month":12,"date":1,"utc":true},{"year":2017,"month":2,"date":1,"utc":true},{"year":2017,"month":4,"date":1,"utc":true},{"year":2017,"month":6,"date":1,"utc":true},{"year":2017,"month":8,"date":1,"utc":true},{"year":2017,"month":10,"date":1,"utc":true},{"year":2017,"month":12,"date":1,"utc":true},{"year":2018,"month":2,"date":1,"utc":true},{"year":2018,"month":4,"date":1,"utc":true},{"year":2018,"month":6,"date":1,"utc":true},{"year":2018,"month":8,"date":1,"utc":true},{"year":2018,"month":10,"date":1,"utc":true}]}}, "y": {"field": "v", "type": "quantitative", "stack": null, "scale": {"domain": [0, 2700]}, "axis": null}, "color": {"field": "t", "type": "nominal", "title": "Seed type"}}},
      {"transform": [{"filter": "datum.t==='L'"}], "mark": {"type": "rule", "color": "#b4b4b4"}, "encoding": {"y": {"datum": 900, "type": "quantitative", "scale": {"domain": [0, 2700]}, "axis": null}}},
      {"transform": [{"filter": "datum.t==='L'"}], "mark": {"type": "rule", "color": "#b4b4b4"}, "encoding": {"y": {"datum": 1800, "type": "quantitative", "scale": {"domain": [0, 2700]}, "axis": null}}},
      {"transform": [{"filter": "datum.t==='L'"}], "mark": {"type": "text", "align": "right", "baseline": "top", "fontSize": 13, "fontWeight": "bold"}, "encoding": {"x": {"datum": {"year": 2018, "month": 11, "date": 13, "utc": true}, "type": "temporal", "axis": {"title": "Date", "titleX": 218, "labelExpr": "utcmonth(datum.value) % 6 == 5 ? utcFormat(datum.value, '%b-%y') : ''", "values": [{"year":2016,"month":12,"date":1,"utc":true},{"year":2017,"month":2,"date":1,"utc":true},{"year":2017,"month":4,"date":1,"utc":true},{"year":2017,"month":6,"date":1,"utc":true},{"year":2017,"month":8,"date":1,"utc":true},{"year":2017,"month":10,"date":1,"utc":true},{"year":2017,"month":12,"date":1,"utc":true},{"year":2018,"month":2,"date":1,"utc":true},{"year":2018,"month":4,"date":1,"utc":true},{"year":2018,"month":6,"date":1,"utc":true},{"year":2018,"month":8,"date":1,"utc":true},{"year":2018,"month":10,"date":1,"utc":true}]}}, "y": {"datum": 2625, "type": "quantitative", "scale": {"domain": [0, 2700]}, "axis": null}, "text": {"field": "p"}}}
     ]},
    {"data": {"name": "all"}, "transform": [{"filter": "datum.s==='0.3'&&datum.b==='5'"}], "resolve": {"scale": {"y": "independent"}},
     "layer": [
      {"transform": [{"filter": "datum.t==='A'"}], "mark": "area", "encoding": {"x": {"field": "d", "type": "temporal", "scale": {"type": "utc", "domain": [{"year": 2016, "month": 11, "date": 7, "utc": true}, {"year": 2018, "month": 11, "date": 28, "utc": true}]}, "axis": {"title": null, "labelExpr": "utcmonth(datum.value) % 6 == 5 ? utcFormat(datum.value, '%b-%y') : ''", "values": [{"year":2016,"month":12,"date":1,"utc":true},{"year":2017,"month":2,"date":1,"utc":true},{"year":2017,"month":4,"date":1,"utc":true},{"year":2017,"month":6,"date":1,"utc":true},{"year":2017,"month":8,"date":1,"utc":true},{"year":2017,"month":10,"date":1,"utc":true},{"year":2017,"month":12,"date":1,"utc":true},{"year":2018,"month":2,"date":1,"utc":true},{"year":2018,"month":4,"date":1,"utc":true},{"year":2018,"month":6,"date":1,"utc":true},{"year":2018,"month":8,"date":1,"utc":true},{"year":2018,"month":10,"date":1,"utc":true}]}}, "y": {"field": "v", "type": "quantitative", "stack": null, "scale": {"domain": [-1800, 900]}, "axis": null}, "color": {"field": "t", "type": "nominal", "title": "Seed type"}}},
      {"transform": [{"filter": "datum.t==='B'"}], "mark": "area", "encoding": {"x": {"field": "d", "type": "temporal", "axis": {"title": null, "labelExpr": "utcmonth(datum.value) % 6 == 5 ? utcFormat(datum.value, '%b-%y') : ''", "values": [{"year":2016,"month":12,"date":1,"utc":true},{"year":2017,"month":2,"date":1,"utc":true},{"year":2017,"month":4,"date":1,"utc":true},{"year":2017,"month":6,"date":1,"utc":true},{"year":2017,"month":8,"date":1,"utc":true},{"year":2017,"month":10,"date":1,"utc":true},{"year":2017,"month":12,"date":1,"utc":true},{"year":2018,"month":2,"date":1,"utc":true},{"year":2018,"month":4,"date":1,"utc":true},{"year":2018,"month":6,"date":1,"utc":true},{"year":2018,"month":8,"date":1,"utc":true},{"year":2018,"month":10,"date":1,"utc":true}]}}, "y": {"field": "v", "type": "quantitative", "stack": null, "scale": {"domain": [-900, 1800]}, "axis": null}, "color": {"field": "t", "type": "nominal", "title": "Seed type"}}},
      {"transform": [{"filter": "datum.t==='C'"}], "mark": "area", "encoding": {"x": {"field": "d", "type": "temporal", "axis": {"title": null, "labelExpr": "utcmonth(datum.value) % 6 == 5 ? utcFormat(datum.value, '%b-%y') : ''", "values": [{"year":2016,"month":12,"date":1,"utc":true},{"year":2017,"month":2,"date":1,"utc":true},{"year":2017,"month":4,"date":1,"utc":true},{"year":2017,"month":6,"date":1,"utc":true},{"year":2017,"month":8,"date":1,"utc":true},{"year":2017,"month":10,"date":1,"utc":true},{"year":2017,"month":12,"date":1,"utc":true},{"year":2018,"month":2,"date":1,"utc":true},{"year":2018,"month":4,"date":1,"utc":true},{"year":2018,"month":6,"date":1,"utc":true},{"year":2018,"month":8,"date":1,"utc":true},{"year":2018,"month":10,"date":1,"utc":true}]}}, "y": {"field": "v", "type": "quantitative", "stack": null, "scale": {"domain": [0, 2700]}, "axis": null}, "color": {"field": "t", "type": "nominal", "title": "Seed type"}}},
      {"transform": [{"filter": "datum.t==='L'"}], "mark": {"type": "rule", "color": "#b4b4b4"}, "encoding": {"y": {"datum": 900, "type": "quantitative", "scale": {"domain": [0, 2700]}, "axis": null}}},
      {"transform": [{"filter": "datum.t==='L'"}], "mark": {"type": "rule", "color": "#b4b4b4"}, "encoding": {"y": {"datum": 1800, "type": "quantitative", "scale": {"domain": [0, 2700]}, "axis": null}}},
      {"transform": [{"filter": "datum.t==='L'"}], "mark": {"type": "text", "align": "right", "baseline": "top", "fontSize": 13, "fontWeight": "bold"}, "encoding": {"x": {"datum": {"year": 2018, "month": 11, "date": 13, "utc": true}, "type": "temporal", "axis": {"title": null, "labelExpr": "utcmonth(datum.value) % 6 == 5 ? utcFormat(datum.value, '%b-%y') : ''", "values": [{"year":2016,"month":12,"date":1,"utc":true},{"year":2017,"month":2,"date":1,"utc":true},{"year":2017,"month":4,"date":1,"utc":true},{"year":2017,"month":6,"date":1,"utc":true},{"year":2017,"month":8,"date":1,"utc":true},{"year":2017,"month":10,"date":1,"utc":true},{"year":2017,"month":12,"date":1,"utc":true},{"year":2018,"month":2,"date":1,"utc":true},{"year":2018,"month":4,"date":1,"utc":true},{"year":2018,"month":6,"date":1,"utc":true},{"year":2018,"month":8,"date":1,"utc":true},{"year":2018,"month":10,"date":1,"utc":true}]}}, "y": {"datum": 2625, "type": "quantitative", "scale": {"domain": [0, 2700]}, "axis": null}, "text": {"field": "p"}}}
     ]},
    {"data": {"name": "all"}, "transform": [{"filter": "datum.s==='1.5'&&datum.b==='5'"}], "resolve": {"scale": {"y": "independent"}},
     "layer": [
      {"transform": [{"filter": "datum.t==='A'"}], "mark": "area", "encoding": {"x": {"field": "d", "type": "temporal", "scale": {"type": "utc", "domain": [{"year": 2016, "month": 11, "date": 7, "utc": true}, {"year": 2018, "month": 11, "date": 28, "utc": true}]}, "axis": {"title": null, "labelExpr": "utcmonth(datum.value) % 6 == 5 ? utcFormat(datum.value, '%b-%y') : ''", "values": [{"year":2016,"month":12,"date":1,"utc":true},{"year":2017,"month":2,"date":1,"utc":true},{"year":2017,"month":4,"date":1,"utc":true},{"year":2017,"month":6,"date":1,"utc":true},{"year":2017,"month":8,"date":1,"utc":true},{"year":2017,"month":10,"date":1,"utc":true},{"year":2017,"month":12,"date":1,"utc":true},{"year":2018,"month":2,"date":1,"utc":true},{"year":2018,"month":4,"date":1,"utc":true},{"year":2018,"month":6,"date":1,"utc":true},{"year":2018,"month":8,"date":1,"utc":true},{"year":2018,"month":10,"date":1,"utc":true}]}}, "y": {"field": "v", "type": "quantitative", "stack": null, "scale": {"domain": [-1800, 900]}, "axis": null}, "color": {"field": "t", "type": "nominal", "title": "Seed type"}}},
      {"transform": [{"filter": "datum.t==='B'"}], "mark": "area", "encoding": {"x": {"field": "d", "type": "temporal", "axis": {"title": null, "labelExpr": "utcmonth(datum.value) % 6 == 5 ? utcFormat(datum.value, '%b-%y') : ''", "values": [{"year":2016,"month":12,"date":1,"utc":true},{"year":2017,"month":2,"date":1,"utc":true},{"year":2017,"month":4,"date":1,"utc":true},{"year":2017,"month":6,"date":1,"utc":true},{"year":2017,"month":8,"date":1,"utc":true},{"year":2017,"month":10,"date":1,"utc":true},{"year":2017,"month":12,"date":1,"utc":true},{"year":2018,"month":2,"date":1,"utc":true},{"year":2018,"month":4,"date":1,"utc":true},{"year":2018,"month":6,"date":1,"utc":true},{"year":2018,"month":8,"date":1,"utc":true},{"year":2018,"month":10,"date":1,"utc":true}]}}, "y": {"field": "v", "type": "quantitative", "stack": null, "scale": {"domain": [-900, 1800]}, "axis": null}, "color": {"field": "t", "type": "nominal", "title": "Seed type"}}},
      {"transform": [{"filter": "datum.t==='C'"}], "mark": "area", "encoding": {"x": {"field": "d", "type": "temporal", "axis": {"title": null, "labelExpr": "utcmonth(datum.value) % 6 == 5 ? utcFormat(datum.value, '%b-%y') : ''", "values": [{"year":2016,"month":12,"date":1,"utc":true},{"year":2017,"month":2,"date":1,"utc":true},{"year":2017,"month":4,"date":1,"utc":true},{"year":2017,"month":6,"date":1,"utc":true},{"year":2017,"month":8,"date":1,"utc":true},{"year":2017,"month":10,"date":1,"utc":true},{"year":2017,"month":12,"date":1,"utc":true},{"year":2018,"month":2,"date":1,"utc":true},{"year":2018,"month":4,"date":1,"utc":true},{"year":2018,"month":6,"date":1,"utc":true},{"year":2018,"month":8,"date":1,"utc":true},{"year":2018,"month":10,"date":1,"utc":true}]}}, "y": {"field": "v", "type": "quantitative", "stack": null, "scale": {"domain": [0, 2700]}, "axis": null}, "color": {"field": "t", "type": "nominal", "title": "Seed type"}}},
      {"transform": [{"filter": "datum.t==='L'"}], "mark": {"type": "rule", "color": "#b4b4b4"}, "encoding": {"y": {"datum": 900, "type": "quantitative", "scale": {"domain": [0, 2700]}, "axis": {"orient": "right", "title": "Buried 5 cm", "labels": false, "ticks": false, "domain": false, "titleAngle": 90, "titleFontSize": 13, "titleFontWeight": "bold", "titlePadding": 4}}}},
      {"transform": [{"filter": "datum.t==='L'"}], "mark": {"type": "rule", "color": "#b4b4b4"}, "encoding": {"y": {"datum": 1800, "type": "quantitative", "scale": {"domain": [0, 2700]}, "axis": null}}},
      {"transform": [{"filter": "datum.t==='L'"}], "mark": {"type": "text", "align": "right", "baseline": "top", "fontSize": 13, "fontWeight": "bold"}, "encoding": {"x": {"datum": {"year": 2018, "month": 11, "date": 13, "utc": true}, "type": "temporal", "axis": {"title": null, "labelExpr": "utcmonth(datum.value) % 6 == 5 ? utcFormat(datum.value, '%b-%y') : ''", "values": [{"year":2016,"month":12,"date":1,"utc":true},{"year":2017,"month":2,"date":1,"utc":true},{"year":2017,"month":4,"date":1,"utc":true},{"year":2017,"month":6,"date":1,"utc":true},{"year":2017,"month":8,"date":1,"utc":true},{"year":2017,"month":10,"date":1,"utc":true},{"year":2017,"month":12,"date":1,"utc":true},{"year":2018,"month":2,"date":1,"utc":true},{"year":2018,"month":4,"date":1,"utc":true},{"year":2018,"month":6,"date":1,"utc":true},{"year":2018,"month":8,"date":1,"utc":true},{"year":2018,"month":10,"date":1,"utc":true}]}}, "y": {"datum": 2625, "type": "quantitative", "scale": {"domain": [0, 2700]}, "axis": null}, "text": {"field": "p"}}},
      {"transform": [{"filter": "datum.t==='T'&&datum.g==='A'"}], "mark": {"type": "text", "align": "center", "baseline": "middle", "dy": 5, "fontSize": 52, "fontWeight": "bold", "color": "white", "font": "Open Sans"}, "encoding": {"x": {"datum": {"year": 2017, "month": 3, "date": 5, "utc": true}, "type": "temporal", "axis": {"title": null, "labelExpr": "utcmonth(datum.value) % 6 == 5 ? utcFormat(datum.value, '%b-%y') : ''", "values": [{"year":2016,"month":12,"date":1,"utc":true},{"year":2017,"month":2,"date":1,"utc":true},{"year":2017,"month":4,"date":1,"utc":true},{"year":2017,"month":6,"date":1,"utc":true},{"year":2017,"month":8,"date":1,"utc":true},{"year":2017,"month":10,"date":1,"utc":true},{"year":2017,"month":12,"date":1,"utc":true},{"year":2018,"month":2,"date":1,"utc":true},{"year":2018,"month":4,"date":1,"utc":true},{"year":2018,"month":6,"date":1,"utc":true},{"year":2018,"month":8,"date":1,"utc":true},{"year":2018,"month":10,"date":1,"utc":true}]}}, "y": {"datum": 2250, "type": "quantitative", "scale": {"domain": [0, 2700]}, "axis": null}, "text": {"field": "g"}}},
      {"transform": [{"filter": "datum.t==='T'&&datum.g==='B'"}], "mark": {"type": "text", "align": "center", "baseline": "middle", "dy": 5, "fontSize": 52, "fontWeight": "bold", "color": "white", "font": "Open Sans"}, "encoding": {"x": {"datum": {"year": 2017, "month": 3, "date": 5, "utc": true}, "type": "temporal", "axis": {"title": null, "labelExpr": "utcmonth(datum.value) % 6 == 5 ? utcFormat(datum.value, '%b-%y') : ''", "values": [{"year":2016,"month":12,"date":1,"utc":true},{"year":2017,"month":2,"date":1,"utc":true},{"year":2017,"month":4,"date":1,"utc":true},{"year":2017,"month":6,"date":1,"utc":true},{"year":2017,"month":8,"date":1,"utc":true},{"year":2017,"month":10,"date":1,"utc":true},{"year":2017,"month":12,"date":1,"utc":true},{"year":2018,"month":2,"date":1,"utc":true},{"year":2018,"month":4,"date":1,"utc":true},{"year":2018,"month":6,"date":1,"utc":true},{"year":2018,"month":8,"date":1,"utc":true},{"year":2018,"month":10,"date":1,"utc":true}]}}, "y": {"datum": 1350, "type": "quantitative", "scale": {"domain": [0, 2700]}, "axis": null}, "text": {"field": "g"}}},
      {"transform": [{"filter": "datum.t==='T'&&datum.g==='C'"}], "mark": {"type": "text", "align": "center", "baseline": "middle", "dy": 5, "fontSize": 52, "fontWeight": "bold", "color": "white", "font": "Open Sans"}, "encoding": {"x": {"datum": {"year": 2017, "month": 3, "date": 5, "utc": true}, "type": "temporal", "axis": {"title": null, "labelExpr": "utcmonth(datum.value) % 6 == 5 ? utcFormat(datum.value, '%b-%y') : ''", "values": [{"year":2016,"month":12,"date":1,"utc":true},{"year":2017,"month":2,"date":1,"utc":true},{"year":2017,"month":4,"date":1,"utc":true},{"year":2017,"month":6,"date":1,"utc":true},{"year":2017,"month":8,"date":1,"utc":true},{"year":2017,"month":10,"date":1,"utc":true},{"year":2017,"month":12,"date":1,"utc":true},{"year":2018,"month":2,"date":1,"utc":true},{"year":2018,"month":4,"date":1,"utc":true},{"year":2018,"month":6,"date":1,"utc":true},{"year":2018,"month":8,"date":1,"utc":true},{"year":2018,"month":10,"date":1,"utc":true}]}}, "y": {"datum": 450, "type": "quantitative", "scale": {"domain": [0, 2700]}, "axis": null}, "text": {"field": "g"}}}
     ]}
  ]
}
